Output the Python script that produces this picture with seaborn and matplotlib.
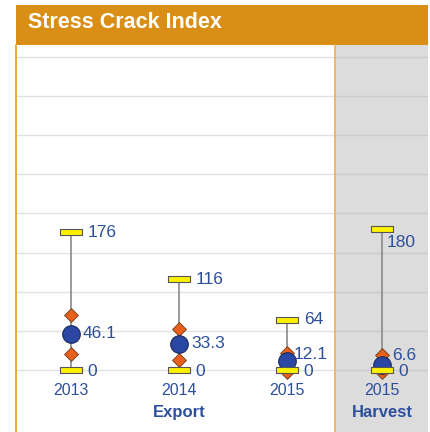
import numpy as np
import pandas as pd
import matplotlib
matplotlib.use('Agg')
import matplotlib.pyplot as plt
from matplotlib.patches import Rectangle
from matplotlib.path import Path
import seaborn as sns

# values
export_years = ['2013', '2014', '2015']
export_max = [176, 116, 64]
export_hi = [70, 53, 22]
export_mean = [46.1, 33.3, 12.1]
export_lo = [20, 13, -3]
export_min = [0, 0, 0]

harvest_years = ['2015']
harvest_max = [180]
harvest_hi = [19]
harvest_mean = [6.6]
harvest_lo = [-3]
harvest_min = [0]

BLUE_TXT = '#2d4f9c'
ORANGE = '#d98e16'

sns.set_theme(style='white')
plt.rcParams['font.family'] = ['Liberation Sans', 'DejaVu Sans']

bar_marker = Path([(-1, -0.26), (1, -0.26), (1, 0.26), (-1, 0.26), (-1, -0.26)],
                  [Path.MOVETO, Path.LINETO, Path.LINETO, Path.LINETO, Path.CLOSEPOLY])


def draw_panel(ax, years, vmax, vhi, vmean, vlo, vmin, mean_offs, max_offs):
    df = pd.DataFrame({'year': years, 'max': vmax, 'hi': vhi, 'mean': vmean,
                       'lo': vlo, 'min': vmin})
    pos = np.arange(len(years))
    ax.vlines(pos, df['min'], df['max'], color='#8a8a8a', lw=1.2, zorder=2)
    for col in ['hi', 'lo']:
        sns.scatterplot(data=df, x='year', y=col, marker='D', s=50, color='#e8601c',
                        edgecolor='#6b3a1a', linewidth=0.6, ax=ax, zorder=3)
    sns.scatterplot(data=df, x='year', y='mean', marker='o', s=160, color='#2a47a3',
                    edgecolor='#1c2a5a', linewidth=0.8, ax=ax, zorder=4)
    for col in ['min', 'max']:
        sns.scatterplot(data=df, x='year', y=col, marker=bar_marker, s=265, color='#fff200',
                        edgecolor='#555555', linewidth=0.8, ax=ax, zorder=5)
    for i in range(len(years)):
        ax.annotate(f"{df['max'][i]:g}", (i, df['max'][i]), xytext=max_offs[i],
                    textcoords='offset points', ha='left', va='center',
                    fontsize=12.5, color=BLUE_TXT, zorder=6)
        ax.annotate(f"{df['mean'][i]:g}", (i, df['mean'][i]), xytext=mean_offs[i],
                    textcoords='offset points', ha='left', va='center',
                    fontsize=12.5, color=BLUE_TXT, zorder=6)
        ax.annotate(f"{df['min'][i]:g}", (i, df['min'][i]), xytext=(11.5, -1),
                    textcoords='offset points', ha='left', va='center',
                    fontsize=12.5, color=BLUE_TXT, zorder=6)
        ax.text(i, -26.5, years[i], ha='center', va='center', fontsize=11.5, color=BLUE_TXT)
    ax.set_ylim(-79.2, 415.3)
    ax.set_yticks(np.arange(0, 401, 50))
    ax.yaxis.grid(True, lw=1.0, zorder=0)
    ax.set_xlabel('')
    ax.set_ylabel('')
    ax.tick_params(left=False, bottom=False, labelleft=False, labelbottom=False)
    for s in ax.spines.values():
        s.set_visible(False)


fig = plt.figure(figsize=(4.31, 4.32), dpi=100)
ax1 = fig.add_axes([16 / 431, 0, 319 / 431, 387 / 432])
ax2 = fig.add_axes([335 / 431, 0, 93 / 431, 387 / 432])

draw_panel(ax1, export_years, export_max, export_hi, export_mean, export_lo, export_min,
           mean_offs=[(8.6, 0), (8.6, 0), (5.0, 4)], max_offs=[(12.2, 0)] * 3)
ax1.grid(True, axis='y', color='#e2e2e2')
ax1.set_xlim(-0.509, 2.444)
ax1.text(1, -54.5, 'Export', ha='center', va='center', fontsize=12, fontweight='bold', color=BLUE_TXT)

draw_panel(ax2, harvest_years, harvest_max, harvest_hi, harvest_mean, harvest_lo, harvest_min,
           mean_offs=[(7.2, 6.5)], max_offs=[(3.6, -9.4)])
ax2.set_facecolor('#dcdcdc')
ax2.grid(True, axis='y', color='#c9c9c9')
ax2.set_xlim(-0.435, 0.426)
ax2.text(0, -54.5, 'Harvest', ha='center', va='center', fontsize=12, fontweight='bold', color=BLUE_TXT)

# orange borders and title bar
fig.add_artist(plt.Line2D([16.5 / 431, 16.5 / 431], [0, 387 / 432], color='#f0a830', lw=1.4))
fig.add_artist(plt.Line2D([335.5 / 431, 335.5 / 431], [0, 387 / 432], color='#f0b050', lw=1.2))
fig.add_artist(Rectangle((16 / 431, 387 / 432), 412 / 431, 40 / 432, color=ORANGE, lw=0))
fig.text(28 / 431, 409 / 432, 'Stress Crack Index', color='white', fontsize=15.5,
         fontweight='bold', ha='left', va='center')

fig.savefig('out.png', dpi=100)
